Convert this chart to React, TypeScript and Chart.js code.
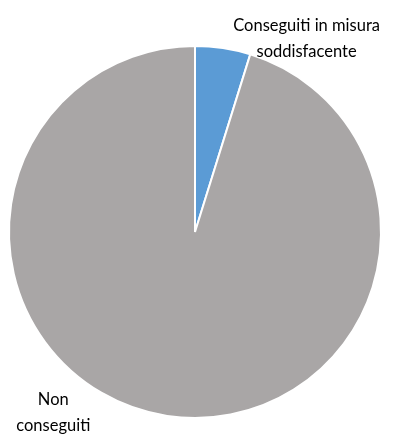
import React, { useEffect, useRef } from "react";
import { Chart, registerables } from "chart.js";

Chart.register(...registerables);

const categories = ["Conseguiti in misura soddisfacente", "Non conseguiti"];
const labelLines = [["Conseguiti in misura", "soddisfacente"], ["Non", "conseguiti"]];
const values = [4.8, 95.2];
const colors = ["#5B9BD5", "#A9A6A6"];

const labelPlugin = {
  id: "outerLabels",
  afterDraw(chart: any) {
    const meta = chart.getDatasetMeta(0);
    const arc = meta.data[0];
    if (!arc) return;
    const { x, y, outerRadius } = arc.getProps(["x", "y", "outerRadius"], true);
    const ctx = chart.ctx;
    ctx.save();
    ctx.fillStyle = "#000000";
    ctx.font = "16.5px Lato, 'Open Sans', sans-serif";
    ctx.textAlign = "center";
    ctx.textBaseline = "middle";
    const anchors = [
      { dx: 0.6, dy: -1.04 },
      { dx: -0.762, dy: 0.97 },
    ];
    const lh = 26;
    labelLines.forEach((lines, i) => {
      const cx = x + anchors[i].dx * outerRadius;
      const cy = y + anchors[i].dy * outerRadius;
      const start = cy - ((lines.length - 1) * lh) / 2;
      lines.forEach((t, j) => ctx.fillText(t, cx, start + j * lh));
    });
    ctx.restore();
  },
};

export default function App() {
  const ref = useRef<HTMLCanvasElement>(null);
  useEffect(() => {
    document.body.style.margin = "0";
    const chart = new Chart(ref.current!, {
      type: "pie",
      data: {
        labels: categories,
        datasets: [
          {
            data: values,
            backgroundColor: colors,
            borderColor: "#FFFFFF",
            borderWidth: 2,
          },
        ],
      },
      options: {
        responsive: false,
        animation: false,
        layout: { padding: { left: 8, right: 24, top: 45, bottom: 15 } },
        plugins: { legend: { display: false }, tooltip: { enabled: false } },
      },
      plugins: [labelPlugin],
    });
    return () => chart.destroy();
  }, []);
  return (
    <div style={{ width: 406, height: 434, background: "#FFFFFF" }}>
      <canvas ref={ref} width={406} height={434} />
    </div>
  );
}
